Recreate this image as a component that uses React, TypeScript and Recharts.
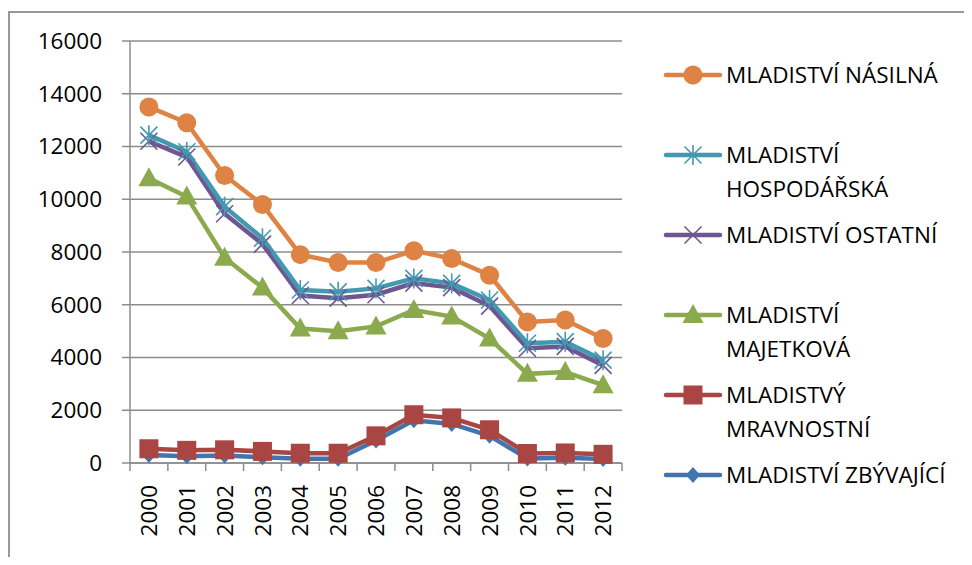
import { LineChart, Line, XAxis, YAxis, CartesianGrid } from 'recharts';

const years = ['2000', '2001', '2002', '2003', '2004', '2005', '2006', '2007', '2008', '2009', '2010', '2011', '2012'];

const nasilna = [13500, 12900, 10900, 9800, 7900, 7600, 7600, 8050, 7750, 7120, 5350, 5420, 4720];
const hospodarska = [12430, 11800, 9720, 8520, 6560, 6490, 6620, 7000, 6810, 6180, 4540, 4600, 3900];
const ostatni = [12200, 11600, 9450, 8300, 6350, 6250, 6380, 6820, 6650, 5950, 4350, 4420, 3700];
const majetkova = [10800, 10100, 7780, 6650, 5100, 5000, 5180, 5800, 5550, 4720, 3380, 3450, 2950];
const mravnostni = [540, 480, 500, 440, 370, 370, 1030, 1830, 1710, 1260, 360, 380, 330];
const zbyvajici = [300, 260, 280, 220, 160, 160, 850, 1620, 1480, 1030, 170, 200, 150];

const yTicks = [0, 2000, 4000, 6000, 8000, 10000, 12000, 14000, 16000];

const data = years.map((year, i) => ({
  year,
  nasilna: nasilna[i],
  hospodarska: hospodarska[i],
  ostatni: ostatni[i],
  majetkova: majetkova[i],
  mravnostni: mravnostni[i],
  zbyvajici: zbyvajici[i],
}));

// legend order (top to bottom); drawn in reverse so the blue sits under the red
const series = [
  { key: 'nasilna', name: 'MLADISTVÍ NÁSILNÁ', color: '#DE8344', shape: 'circle' },
  { key: 'hospodarska', name: 'MLADISTVÍ HOSPODÁŘSKÁ', color: '#4299B0', shape: 'star' },
  { key: 'ostatni', name: 'MLADISTVÍ OSTATNÍ', color: '#6F5592', shape: 'x' },
  { key: 'majetkova', name: 'MLADISTVÍ MAJETKOVÁ', color: '#8BA94D', shape: 'triangle' },
  { key: 'mravnostni', name: 'MLADISTVÝ MRAVNOSTNÍ', color: '#A94643', shape: 'square' },
  { key: 'zbyvajici', name: 'MLADISTVÍ ZBÝVAJÍCÍ', color: '#4275AD', shape: 'diamond' },
];

const FONT = '"Open Sans", sans-serif';
const FONT_SIZE = 22.5;
const GRID = '#8c8c8c';
const HALF = 18.9;

const Marker = ({ cx, cy, shape, color }: any) => {
  if (cx == null || cy == null) return null;
  switch (shape) {
    case 'circle':
      return <circle cx={cx} cy={cy} r={9.5} fill={color} />;
    case 'square':
      return <rect x={cx - 9.5} y={cy - 9.5} width={19} height={19} fill={color} />;
    case 'triangle':
      return <polygon points={`${cx},${cy - 11} ${cx + 10.5},${cy + 8} ${cx - 10.5},${cy + 8}`} fill={color} />;
    case 'diamond':
      return <polygon points={`${cx},${cy - 8} ${cx + 7},${cy} ${cx},${cy + 8} ${cx - 7},${cy}`} fill={color} />;
    case 'star':
      return (
        <g stroke={color} strokeWidth={1.6}>
          <line x1={cx} y1={cy - 10} x2={cx} y2={cy + 10} />
          <line x1={cx - 8.5} y1={cy - 8.5} x2={cx + 8.5} y2={cy + 8.5} />
          <line x1={cx - 8.5} y1={cy + 8.5} x2={cx + 8.5} y2={cy - 8.5} />
        </g>
      );
    case 'x':
      return (
        <g stroke={color} strokeWidth={1.6}>
          <line x1={cx - 8.5} y1={cy - 8.5} x2={cx + 8.5} y2={cy + 8.5} />
          <line x1={cx - 8.5} y1={cy + 8.5} x2={cx + 8.5} y2={cy - 8.5} />
        </g>
      );
    default:
      return null;
  }
};

const XTick = ({ x, y, payload, index }: any) => (
  <g transform={`translate(${x},${y})`}>
    <line x1={-HALF} y1={0} x2={-HALF} y2={8} stroke={GRID} strokeWidth={1.5} />
    {index === years.length - 1 && <line x1={HALF} y1={0} x2={HALF} y2={8} stroke={GRID} strokeWidth={1.5} />}
    <text
      transform="rotate(-90)"
      x={-22}
      y={0}
      dy="0.36em"
      textAnchor="end"
      fontFamily={FONT}
      fontSize={FONT_SIZE}
      fill="#000"
    >
      {payload.value}
    </text>
  </g>
);

const LegendBox = () => (
  <div style={{ position: 'absolute', left: 654, top: 55, fontFamily: FONT, fontSize: FONT_SIZE, color: '#000' }}>
    {series.map((s) => (
      <div key={s.key} style={{ position: 'relative', height: 80 }}>
        <svg width={62} height={24} style={{ position: 'absolute', left: 0, top: 0 }}>
          <line x1={4} y1={12} x2={58} y2={12} stroke={s.color} strokeWidth={4.5} strokeLinecap="round" />
          <Marker cx={31} cy={12} shape={s.shape} color={s.color} />
        </svg>
        <div style={{ position: 'absolute', left: 64, top: -5, width: 228, lineHeight: '33.5px' }}>{s.name}</div>
      </div>
    ))}
  </div>
);

const App = () => {
  return (
    <div style={{ position: 'relative', width: 964, height: 549, overflow: 'hidden', background: '#fff' }}>
      <div
        style={{
          position: 'absolute',
          left: 0,
          top: 3,
          width: 1000,
          height: 700,
          border: '2px solid #999',
        }}
      />
      <div style={{ position: 'absolute', left: 0, top: 0 }}>
        <LineChart width={964} height={549} data={data} margin={{ top: 33, right: 350, bottom: 0, left: 0 }}>
          <CartesianGrid vertical={false} stroke={GRID} strokeWidth={1.5} />
          <XAxis
            dataKey="year"
            interval={0}
            height={94}
            padding={{ left: HALF, right: HALF }}
            axisLine={{ stroke: GRID, strokeWidth: 1.5 }}
            tickLine={false}
            tickSize={0}
            tickMargin={0}
            tick={<XTick />}
          />
          <YAxis
            width={122}
            domain={[0, 16000]}
            ticks={yTicks}
            interval={0}
            tickSize={8}
            tickMargin={20}
            axisLine={{ stroke: GRID, strokeWidth: 1.5 }}
            tickLine={{ stroke: GRID, strokeWidth: 1.5 }}
            tick={{ fontFamily: FONT, fontSize: FONT_SIZE, fill: '#000' }}
          />
          {[...series].reverse().map((s) => (
            <Line
              key={s.key}
              type="linear"
              dataKey={s.key}
              name={s.name}
              stroke={s.color}
              strokeWidth={4.5}
              isAnimationActive={false}
              dot={(p: any) => <Marker key={`${s.key}-${p.index}`} cx={p.cx} cy={p.cy} shape={s.shape} color={s.color} />}
              activeDot={false}
            />
          ))}
        </LineChart>
      </div>
      <LegendBox />
    </div>
  );
};

export default App;
